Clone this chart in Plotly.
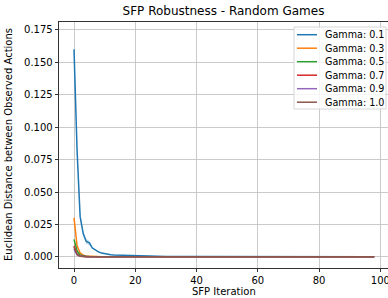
import plotly.graph_objects as go

# ---------------- data ----------------
iterations = [0, 1, 2, 3, 4, 5, 6, 7, 8, 9, 10, 11, 12, 13, 14, 15, 16, 17, 18, 19, 20,
              22, 24, 26, 28, 30, 40, 50, 60, 70, 80, 90, 98]

gamma_01 = [0.160, 0.082, 0.031, 0.018, 0.0118, 0.0108, 0.0068, 0.0050, 0.0038, 0.0029, 0.0024,
            0.0020, 0.0017, 0.0015, 0.0014, 0.0013, 0.0013, 0.0012, 0.0011, 0.0010, 0.0009,
            0.0007, 0.0006, 0.0005, 0.0004, 0.0003, 0.0002, 0.0001, 0.0001, 0.0001, 0.0001, 0.0001, 0.0001]
gamma_01_upper = [0.163, 0.085, 0.033, 0.0195, 0.0135, 0.0125, 0.0076, 0.0056, 0.0043, 0.0033, 0.0027,
                  0.0023, 0.0019, 0.0017, 0.0016, 0.0015, 0.0015, 0.0014, 0.0013, 0.0012, 0.0011,
                  0.0009, 0.0008, 0.0006, 0.0005, 0.0004, 0.0003, 0.0002, 0.0002, 0.0002, 0.0002, 0.0002, 0.0002]
gamma_01_lower = [0.157, 0.079, 0.029, 0.0165, 0.0100, 0.0092, 0.0060, 0.0044, 0.0033, 0.0025, 0.0021,
                  0.0017, 0.0015, 0.0013, 0.0012, 0.0011, 0.0011, 0.0010, 0.0009, 0.0008, 0.0007,
                  0.0005, 0.0004, 0.0004, 0.0003, 0.0002, 0.0001, 0.0000, 0.0000, 0.0000, 0.0000, 0.0000, 0.0000]
gamma_03 = [0.030, 0.0085, 0.0030, 0.0012, 0.0006, 0.0004, 0.0003, 0.0002, 0.0002, 0.0001, 0.0001,
            0.0001, 0.0001, 0.0001, 0.0001, 0.0001, 0.0000, 0.0000, 0.0000, 0.0000, 0.0000,
            0.0000, 0.0000, 0.0000, 0.0000, 0.0000, 0.0000, 0.0000, 0.0000, 0.0000, 0.0000, 0.0000, 0.0000]
gamma_05 = [0.0135, 0.0045, 0.0015, 0.0006, 0.0003, 0.0002, 0.0001, 0.0001, 0.0001, 0.0000, 0.0000,
            0.0000, 0.0000, 0.0000, 0.0000, 0.0000, 0.0000, 0.0000, 0.0000, 0.0000, 0.0000,
            0.0000, 0.0000, 0.0000, 0.0000, 0.0000, 0.0000, 0.0000, 0.0000, 0.0000, 0.0000, 0.0000, 0.0000]
gamma_07 = [0.0085, 0.0020, 0.0006, 0.0002, 0.0001, 0.0001, 0.0000, 0.0000, 0.0000, 0.0000, 0.0000,
            0.0000, 0.0000, 0.0000, 0.0000, 0.0000, 0.0000, 0.0000, 0.0000, 0.0000, 0.0000,
            0.0000, 0.0000, 0.0000, 0.0000, 0.0000, 0.0000, 0.0000, 0.0000, 0.0000, 0.0000, 0.0000, 0.0000]
gamma_09 = [0.0060, 0.0015, 0.0004, 0.0001, 0.0001, 0.0000, 0.0000, 0.0000, 0.0000, 0.0000, 0.0000,
            0.0000, 0.0000, 0.0000, 0.0000, 0.0000, 0.0000, 0.0000, 0.0000, 0.0000, 0.0000,
            0.0000, 0.0000, 0.0000, 0.0000, 0.0000, 0.0000, 0.0000, 0.0000, 0.0000, 0.0000, 0.0000, 0.0000]
gamma_10 = [0.0075, 0.0018, 0.0005, 0.0002, 0.0001, 0.0000, 0.0000, 0.0000, 0.0000, 0.0000, 0.0000,
            0.0000, 0.0000, 0.0000, 0.0000, 0.0000, 0.0000, 0.0000, 0.0000, 0.0000, 0.0000,
            0.0000, 0.0000, 0.0000, 0.0000, 0.0000, 0.0000, 0.0000, 0.0000, 0.0000, 0.0000, 0.0000, 0.0000]

series_names = ["Gamma: 0.1", "Gamma: 0.3", "Gamma: 0.5", "Gamma: 0.7", "Gamma: 0.9", "Gamma: 1.0"]
series_values = [gamma_01, gamma_03, gamma_05, gamma_07, gamma_09, gamma_10]
colors = ["#1f77b4", "#ff7f0e", "#2ca02c", "#d62728", "#9467bd", "#8c564b"]

x_ticks = [0, 20, 40, 60, 80, 100]
y_ticks = [0.0, 0.025, 0.05, 0.075, 0.1, 0.125, 0.15, 0.175]

# ---------------- layout geometry ----------------
W, H = 388, 298
ML, MR, MT, MB = 59, 0, 22, 30
PW, PH = W - ML - MR, H - MT - MB
FONT = "DejaVu Sans"
FS = 10


def px(x):
    return (x - ML) / PW


def py(y):
    return (H - MB - y) / PH


fig = go.Figure()

# shaded band for gamma 0.1
fig.add_trace(go.Scatter(x=iterations, y=gamma_01_upper, mode="lines",
                         line=dict(width=0, color=colors[0]), showlegend=False, hoverinfo="skip"))
fig.add_trace(go.Scatter(x=iterations, y=gamma_01_lower, mode="lines", fill="tonexty",
                         fillcolor="rgba(31,119,180,0.25)",
                         line=dict(width=0, color=colors[0]), showlegend=False, hoverinfo="skip"))

for name, vals, col in zip(series_names, series_values, colors):
    fig.add_trace(go.Scatter(x=iterations, y=vals, mode="lines", name=name,
                             line=dict(color=col, width=1.5), showlegend=False))

# manual legend (matplotlib-style compact box)
shapes = [dict(type="rect", xref="paper", yref="paper",
               x0=px(294), x1=px(386), y0=py(109), y1=py(27),
               line=dict(color="#d6d6d6", width=1), fillcolor="rgba(255,255,255,0.8)", layer="above")]
annotations = []
for i, (name, col) in enumerate(zip(series_names, colors)):
    yy = 34.7 + 13.5 * i
    shapes.append(dict(type="line", xref="paper", yref="paper",
                       x0=px(297), x1=px(317), y0=py(yy), y1=py(yy),
                       line=dict(color=col, width=1.5), layer="above"))
    annotations.append(dict(text=name, xref="paper", yref="paper", x=px(322.5), y=py(yy),
                            xanchor="left", yanchor="middle", showarrow=False,
                            font=dict(family=FONT, size=9.6, color="#000")))

# axis titles as paper annotations
annotations.append(dict(text="SFP Iteration", xref="paper", yref="paper",
                        x=px(224), y=py(291), xanchor="center", yanchor="middle",
                        showarrow=False, font=dict(family=FONT, size=FS, color="#000")))
annotations.append(dict(text="Euclidean Distance between Observed Actions", xref="paper", yref="paper",
                        x=px(8), y=py(145), xanchor="center", yanchor="middle", textangle=-90,
                        showarrow=False, font=dict(family=FONT, size=FS, color="#000")))

fig.update_layout(
    width=W, height=H,
    margin=dict(l=ML, r=MR, t=MT, b=MB, pad=0, autoexpand=False),
    paper_bgcolor="white", plot_bgcolor="white",
    font=dict(family=FONT, size=FS, color="#000"),
    title=dict(text="SFP Robustness - Random Games", x=0.5, xref="paper", xanchor="center",
               y=1 - 11 / H, yref="container", yanchor="middle", automargin=False,
               font=dict(family=FONT, size=12, color="#000")),
    shapes=shapes, annotations=annotations,
    showlegend=False,
    hovermode=False,
)

fig.update_xaxes(range=[-4.9, 102.5], tickvals=x_ticks, ticktext=[str(v) for v in x_ticks],
                 showgrid=True, gridcolor="#bdbdbd", gridwidth=0.8, automargin=False,
                 showline=True, linecolor="#000", linewidth=0.8, mirror=True,
                 ticks="outside", ticklen=3.5, tickwidth=0.8, tickcolor="#000",
                 ticklabeloverflow="allow",
                 zeroline=False, tickfont=dict(family=FONT, size=FS, color="#000"))
fig.update_yaxes(range=[-0.0086, 0.1811], tickvals=y_ticks, ticktext=[f"{v:.3f}" for v in y_ticks],
                 showgrid=True, gridcolor="#bdbdbd", gridwidth=0.8, automargin=False,
                 showline=True, linecolor="#000", linewidth=0.8, mirror=True,
                 ticks="outside", ticklen=3.5, tickwidth=0.8, tickcolor="#000",
                 zeroline=False, tickfont=dict(family=FONT, size=FS, color="#000"))

fig.write_html("out.html",
               config={"displayModeBar": False, "staticPlot": True},
               post_script="document.body.style.margin='0';document.body.style.padding='0';")
